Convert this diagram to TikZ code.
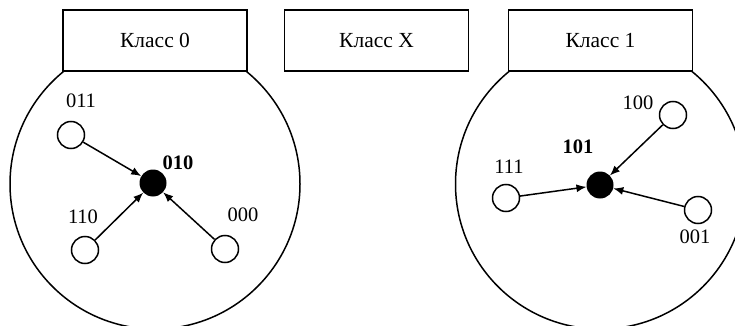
\documentclass[tikz,border=0pt]{standalone}
\usepackage{fontspec}
\setmainfont{Liberation Serif}
\usetikzlibrary{arrows.meta}
\begin{document}
\begin{tikzpicture}[x=1pt,y=-1pt,
  every node/.style={font=\fontsize{20.5}{24}\selectfont},
  bigc/.style={draw,line width=1.5pt},
  classbox/.style={draw,fill=white,line width=1.5pt,minimum width=184pt,minimum height=61pt,inner sep=0pt,font=\fontsize{21.5}{25}\selectfont},
  hollow/.style={circle,draw,line width=1.5pt,fill=white,minimum size=27pt,inner sep=0pt},
  solid/.style={circle,fill=black,minimum size=27pt,inner sep=0pt},
  lbl/.style={inner sep=0pt},
  conn/.style={line width=1.5pt,-{Latex[length=10pt,width=8pt]}}]
\useasboundingbox (0,0) rectangle (735,326);
\clip (0,0) rectangle (735,326);
\fill[white] (0,0) rectangle (735,326);
% big circles
\draw[bigc] (155,184) circle[radius=145];
\draw[bigc] (600.5,184) circle[radius=145];
% class boxes
\node[classbox] (k0) at (155,40.5) {Класс 0};
\node[classbox] (kx) at (376.5,40.5) {Класс X};
\node[classbox] (k1) at (600.5,40.5) {Класс 1};
% class 0
\node[solid] (c0) at (153,183) {};
\node[hollow] (a011) at (71,135) {};
\node[hollow] (a110) at (85,250) {};
\node[hollow] (a000) at (225,249) {};
\node[lbl] (l010) at (178,163) {\textbf{010}};
\node[lbl] (l011) at (81,101) {011};
\node[lbl] (l110) at (83,217) {110};
\node[lbl] (l000) at (243,215) {000};
\draw[conn] (a011) -- (c0);
\draw[conn] (a110) -- (c0);
\draw[conn] (a000) -- (c0);
% class 1
\node[solid] (c1) at (600,185) {};
\node[hollow] (b100) at (673,115) {};
\node[hollow] (b111) at (506,198) {};
\node[hollow] (b001) at (698,210) {};
\node[lbl] (l101) at (578,147) {\textbf{101}};
\node[lbl] (l100) at (638,103) {100};
\node[lbl] (l111) at (509,167) {111};
\node[lbl] (l001) at (695,237) {001};
\draw[conn] (b100) -- (c1);
\draw[conn] (b111) -- (c1);
\draw[conn] (b001) -- (c1);
\end{tikzpicture}
\end{document}
